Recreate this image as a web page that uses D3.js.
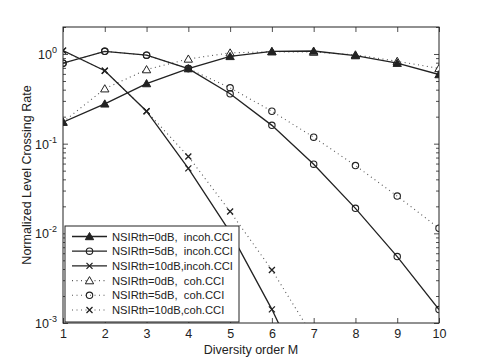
<!DOCTYPE html>
<html>
<head>
<meta charset="utf-8">
<script src="https://cdn.jsdelivr.net/npm/d3@7"></script>
<style>
  body { margin: 0; background: #fff; }
  svg text { font-family: "Liberation Sans", Arial, sans-serif; fill: #222; }
</style>
</head>
<body>
<svg id="chart" width="485" height="364"></svg>
<script>
// diversity order
let orders = [1, 2, 3, 4, 5, 6, 7, 8, 9, 10];

// incoherent CCI (solid)
let incoh0dB  = [0.174, 0.278, 0.468, 0.687, 0.94, 1.07, 1.08, 0.96, 0.79, 0.59];
let incoh5dB  = [0.79, 1.07, 0.97, 0.687, 0.36, 0.16, 0.059, 0.019, 0.0055, 0.00141];
let incoh10dB = [1.09, 0.65, 0.23, 0.053, 0.0103, 0.00142, 0.00015];

// coherent CCI (dotted)
let coh0dB  = [0.174, 0.41, 0.67, 0.88, 1.03, 1.06, 1.05, 0.98, 0.83, 0.69];
let coh5dB  = [0.79, 1.07, 0.97, 0.687, 0.42, 0.23, 0.118, 0.057, 0.026, 0.0114];
let coh10dB = [1.09, 0.65, 0.23, 0.072, 0.0175, 0.0039, 0.00069];

let yMajor = [1e-3, 1e-2, 1e-1, 1];
let supLabels = ["-3", "-2", "-1", "0"];

let seriesNames = [
  "NSIRth=0dB,  incoh.CCI",
  "NSIRth=5dB,  incoh.CCI",
  "NSIRth=10dB,incoh.CCI",
  "NSIRth=0dB,  coh.CCI",
  "NSIRth=5dB,  coh.CCI",
  "NSIRth=10dB,coh.CCI"
];

let series = [
  { name: seriesNames[0], vals: incoh0dB,  marker: "tri",    dotted: false },
  { name: seriesNames[1], vals: incoh5dB,  marker: "circle", dotted: false },
  { name: seriesNames[2], vals: incoh10dB, marker: "cross",  dotted: false },
  { name: seriesNames[3], vals: coh0dB,    marker: "tri",    dotted: true },
  { name: seriesNames[4], vals: coh5dB,    marker: "circle", dotted: true },
  { name: seriesNames[5], vals: coh10dB,   marker: "cross",  dotted: true }
];

const pLeft = 63, pRight = 439, pTop = 27, pBottom = 323;
const svg = d3.select("#chart");

const x = d3.scaleLinear().domain([1, 10]).range([pLeft, pRight]);
const y = d3.scaleLog().domain([1e-3, 2]).range([pBottom, pTop]);

svg.append("rect").attr("width", 485).attr("height", 364).attr("fill", "#fff");

svg.append("defs").append("clipPath").attr("id", "clip")
  .append("rect").attr("x", pLeft).attr("y", pTop)
  .attr("width", pRight - pLeft).attr("height", pBottom - pTop);

// ---- axes (inward ticks, box) ----
let minor = y.ticks().filter(v => yMajor.indexOf(v) < 0);

function styleAxis(g) {
  g.select(".domain").remove();
  g.selectAll("line").attr("stroke", "#222").attr("stroke-width", 0.8);
}

svg.append("g").attr("transform", `translate(0,${pBottom})`)
  .call(d3.axisBottom(x).tickValues(orders).tickSize(-5).tickPadding(6).tickFormat(d3.format("d")))
  .call(styleAxis)
  .selectAll("text").attr("font-size", 12.5).attr("fill", "#222");

svg.append("g").attr("transform", `translate(0,${pTop})`)
  .call(d3.axisTop(x).tickValues(orders).tickSize(-5).tickFormat(""))
  .call(styleAxis);

svg.append("g").attr("transform", `translate(${pLeft},0)`)
  .call(d3.axisLeft(y).tickValues(yMajor).tickSize(-5).tickFormat(""))
  .call(styleAxis);
svg.append("g").attr("transform", `translate(${pLeft},0)`)
  .call(d3.axisLeft(y).tickValues(minor).tickSize(-3).tickFormat(""))
  .call(styleAxis);
svg.append("g").attr("transform", `translate(${pRight},0)`)
  .call(d3.axisRight(y).tickValues(yMajor).tickSize(-5).tickFormat(""))
  .call(styleAxis);
svg.append("g").attr("transform", `translate(${pRight},0)`)
  .call(d3.axisRight(y).tickValues(minor).tickSize(-3).tickFormat(""))
  .call(styleAxis);

// y tick labels 10^k
yMajor.forEach((v, i) => {
  let t = svg.append("text").attr("x", 57).attr("y", y(v) + 5)
    .attr("text-anchor", "end").attr("font-size", 12.5);
  t.append("tspan").text("10");
  t.append("tspan").attr("dy", -6).attr("font-size", 9).text(supLabels[i]);
});

svg.append("rect").attr("x", pLeft).attr("y", pTop)
  .attr("width", pRight - pLeft).attr("height", pBottom - pTop)
  .attr("fill", "none").attr("stroke", "#222").attr("stroke-width", 1);

// axis titles
svg.append("text").attr("x", (pLeft + pRight) / 2).attr("y", 354)
  .attr("text-anchor", "middle").attr("font-size", 12.5).text("Diversity order M");
svg.append("text").attr("transform", `translate(31,${(pTop + pBottom) / 2}) rotate(-90)`)
  .attr("text-anchor", "middle").attr("font-size", 12.5).text("Normalized Level Crossing Rate");

// ---- markers ----
function drawMarker(g, kind, cx, cy, dotted) {
  if (kind === "tri") {
    g.append("path").attr("d", d3.symbol(d3.symbolTriangle, 30)())
      .attr("transform", `translate(${cx},${cy + 0.8})`)
      .attr("fill", dotted ? "#fff" : "#222").attr("stroke", "#222").attr("stroke-width", 1);
  } else if (kind === "circle") {
    g.append("circle").attr("cx", cx).attr("cy", cy).attr("r", 3.2)
      .attr("fill", "none").attr("stroke", "#222").attr("stroke-width", 1.1);
  } else {
    g.append("path").attr("d", `M${cx - 3},${cy - 3}L${cx + 3},${cy + 3}M${cx - 3},${cy + 3}L${cx + 3},${cy - 3}`)
      .attr("stroke", "#222").attr("stroke-width", 1.3);
  }
}

const line = d3.line().x((d, i) => x(orders[i])).y(d => y(d));
const plot = svg.append("g").attr("clip-path", "url(#clip)");

// dotted first, solid on top
series.slice().reverse().forEach(s => {
  plot.append("path").datum(s.vals).attr("d", line)
    .attr("fill", "none")
    .attr("stroke", s.dotted ? "#555" : "#222")
    .attr("stroke-width", s.dotted ? 1.1 : 1.3)
    .attr("stroke-dasharray", s.dotted ? "1,3.5" : null);
  s.vals.forEach((v, i) => {
    if (v >= 1e-3) drawMarker(plot, s.marker, x(orders[i]), y(v), s.dotted);
  });
});

// ---- legend ----
const lg = svg.append("g");
lg.append("rect").attr("x", 65).attr("y", 226).attr("width", 174).attr("height", 96)
  .attr("fill", "#fff").attr("stroke", "#222").attr("stroke-width", 1);
series.forEach((s, i) => {
  let ly = 236.5 + i * 14.7;
  lg.append("line").attr("x1", 72).attr("x2", 107).attr("y1", ly).attr("y2", ly)
    .attr("stroke", s.dotted ? "#555" : "#222")
    .attr("stroke-width", s.dotted ? 1.1 : 1.3)
    .attr("stroke-dasharray", s.dotted ? "1,3.5" : null);
  drawMarker(lg, s.marker, 89.5, ly, s.dotted);
  lg.append("text").attr("x", 112).attr("y", ly + 4).attr("font-size", 11.2)
    .attr("xml:space", "preserve").style("white-space", "pre").text(s.name);
});
</script>
</body>
</html>
